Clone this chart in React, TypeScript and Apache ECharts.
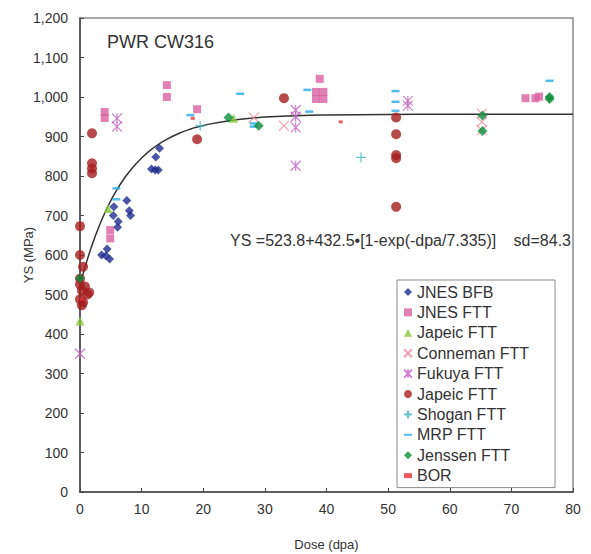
import React, { useEffect, useRef } from "react";
import * as echarts from "echarts";

// ---- data (dpa, YS MPa) ----
const jnesBfb = [[3.5, 600], [4.2, 598], [4.8, 590], [4.4, 615], [5.4, 700], [5.5, 722], [6.1, 670], [6.2, 685], [7.6, 738], [8.0, 712], [8.2, 700], [11.6, 818], [12.2, 815], [12.7, 815], [12.3, 848], [12.9, 870]];
const jnesFtt = [[4.0, 962], [4.0, 947], [4.9, 663], [4.9, 642], [14.1, 1030], [14.1, 1000], [19.0, 969], [38.3, 1013], [39.5, 1013], [38.3, 995], [39.5, 995], [38.9, 1046], [72.3, 997], [73.9, 997], [74.5, 1001]];
const japeicTri = [[0, 433], [4.55, 718], [24.9, 946]];
const conneman = [[28.2, 948], [33.1, 927], [65.2, 958], [65.2, 937], [65.2, 916]];
const fukuya = [[0, 350], [6.0, 946], [6.0, 925], [35.0, 967], [35.0, 950], [35.0, 923], [35.0, 826], [53.2, 990], [53.2, 978]];
const japeicCircle = [[1.95, 908], [1.95, 832], [1.95, 819], [1.95, 807], [0, 673], [0, 600], [0.5, 570], [0, 540], [0, 525], [0.8, 520], [0.3, 510], [1.2, 500], [1.5, 505], [0, 488], [0.5, 480], [0.3, 473], [19.0, 893], [33.1, 997], [51.3, 948], [51.3, 906], [51.3, 853], [51.3, 845], [51.3, 722]];
const shogan = [[19.5, 927], [45.6, 847]];
const mrp = [[5.9, 769], [5.9, 741], [17.9, 954], [26.0, 1008], [28.2, 933], [28.2, 925], [36.9, 1018], [37.2, 963], [51.2, 1015], [51.2, 988], [51.2, 965], [76.2, 1041]];
const jenssen = [[0, 541], [24.1, 948], [29.0, 927], [65.3, 953], [65.3, 914], [76.2, 1000], [76.2, 995]];
const bor = [[18.3, 946], [42.3, 937], [0.3, 488]];
// fitted curve YS = 523.8 + 432.5[1-exp(-dpa/7.335)], points as drawn
const fitCurve = [[0, 523.8], [0.5, 552.3], [1, 578.9], [2, 627.0], [3, 669.0], [4, 705.6], [5, 737.5], [6, 765.4], [7, 789.8], [8, 811.0], [10, 845.7], [12, 872.1], [14, 892.2], [16, 907.5], [18, 919.1], [20, 928.0], [25, 942.0], [30, 949.1], [35, 952.6], [40, 954.4], [50, 955.8], [60, 956.2], [80, 956.3]];

const xTicks = [0, 10, 20, 30, 40, 50, 60, 70, 80];
const yTicks = [0, 100, 200, 300, 400, 500, 600, 700, 800, 900, 1000, 1100, 1200];

const FONT = "Liberation Sans, Arial, sans-serif";
const X_PATH = "path://M0,0L10,10M10,0L0,10";
const STAR_PATH = "path://M0,0L10,10M10,0L0,10M5,0L5,10";
const PLUS_PATH = "path://M5,0L5,10M0,5L10,5";
const DASH_ICON = "path://M0,4L10,4L10,6.5L0,6.5Z";
const SMALL_DASH_ICON = "path://M3,4L7,4L7,6.5L3,6.5Z";

const strokeStyle = (c: string, w = 1.2) => ({ color: "rgba(0,0,0,0)", borderColor: c, borderWidth: w });

export default function App() {
  const ref = useRef<HTMLDivElement>(null);
  useEffect(() => {
    if (!ref.current) return;
    const chart = echarts.init(ref.current, null, { renderer: "svg" });
    const fmt = (v: number) => String(v).replace(/\B(?=(\d{3})+(?!\d))/g, ",");
    chart.setOption({
      animation: false,
      backgroundColor: "#ffffff",
      grid: { left: 80, right: 18, top: 18, bottom: 62, outerBoundsMode: "none", show: true, borderColor: "#8a8a8a", borderWidth: 1.5 },
      xAxis: {
        type: "value",
        min: xTicks[0],
        max: xTicks[xTicks.length - 1],
        interval: 10,
        name: "Dose (dpa)",
        nameLocation: "middle",
        nameGap: 46,
        nameMoveOverlap: false,
        nameTextStyle: { fontFamily: FONT, fontSize: 13, color: "#333" },
        axisLine: { show: true, lineStyle: { color: "#444", width: 1.5 } },
        axisTick: { show: true, inside: true, length: 4, lineStyle: { color: "#444" } },
        axisLabel: { fontFamily: FONT, fontSize: 14, color: "#333", margin: 10 },
        splitLine: { show: false },
      },
      yAxis: {
        type: "value",
        min: yTicks[0],
        max: yTicks[yTicks.length - 1],
        interval: 100,
        name: "YS (MPa)",
        nameLocation: "middle",
        nameGap: 45,
        nameMoveOverlap: false,
        nameRotate: 90,
        nameTextStyle: { fontFamily: FONT, fontSize: 13, color: "#333" },
        axisLine: { show: true, lineStyle: { color: "#444", width: 1.5 } },
        axisTick: { show: true, inside: true, length: 4, lineStyle: { color: "#444" } },
        axisLabel: { fontFamily: FONT, fontSize: 14, color: "#333", margin: 12, formatter: fmt },
        splitLine: { show: false },
      },
      legend: {
        orient: "vertical",
        left: 397,
        top: 280,
        itemWidth: 8,
        itemHeight: 8,
        itemGap: 4.4,
        padding: [4, 26, 4, 6],
        borderColor: "#8a8a8a",
        borderWidth: 1,
        backgroundColor: "#fff",
        textStyle: { fontFamily: FONT, fontSize: 16, color: "#333" },
        formatter: (n: string) => n.trim(),
        data: [
          "JNES BFB",
          "JNES FTT",
          "Japeic FTT",
          "Conneman FTT",
          "Fukuya FTT",
          "Japeic FTT ",
          "Shogan FTT",
          { name: "MRP FTT", icon: DASH_ICON },
          "Jenssen FTT",
          { name: "BOR", icon: SMALL_DASH_ICON },
        ],
      },
      graphic: [
        { type: "text", left: 107, top: 33, style: { text: "PWR CW316", fontFamily: FONT, fontSize: 18, fill: "#333" } },
        { type: "text", left: 230, top: 232, style: { text: "YS =523.8+432.5•[1-exp(-dpa/7.335)]", fontFamily: FONT, fontSize: 16, fill: "#333" } },
        { type: "text", right: 20, top: 232, style: { text: "sd=84.3", fontFamily: FONT, fontSize: 16, fill: "#333" } },
      ],
      series: [
        { type: "line", name: "fit", data: fitCurve, smooth: true, showSymbol: false, lineStyle: { color: "#333", width: 1.5 }, z: 1, silent: true },
        { type: "scatter", name: "JNES BFB", data: jnesBfb, symbol: "diamond", symbolSize: 9, itemStyle: { color: "#1f2a8c" } },
        { type: "scatter", name: "JNES FTT", data: jnesFtt, symbol: "rect", symbolSize: 8, itemStyle: { color: "#d9609f" } },
        { type: "scatter", name: "Japeic FTT", data: japeicTri, symbol: "triangle", symbolSize: 9, itemStyle: { color: "#8cc63e" } },
        { type: "scatter", name: "Conneman FTT", data: conneman, symbol: X_PATH, symbolSize: 10, itemStyle: strokeStyle("#f08a9a") },
        { type: "scatter", name: "Fukuya FTT", data: fukuya, symbol: STAR_PATH, symbolSize: 10, itemStyle: strokeStyle("#c060c0") },
        { type: "scatter", name: "Japeic FTT ", data: japeicCircle, symbol: "circle", symbolSize: 10, itemStyle: { color: "#a51d1d" } },
        { type: "scatter", name: "Shogan FTT", data: shogan, symbol: PLUS_PATH, symbolSize: 10, itemStyle: strokeStyle("#3cb4c8") },
        { type: "scatter", name: "MRP FTT", data: mrp, symbol: "rect", symbolSize: [8, 2.5], itemStyle: { color: "#29abe2" } },
        { type: "scatter", name: "Jenssen FTT", data: jenssen, symbol: "diamond", symbolSize: 10, itemStyle: { color: "#0b8c3a" } },
        { type: "scatter", name: "BOR", data: bor, symbol: "rect", symbolSize: [4, 3], itemStyle: { color: "#e8303a" } },
      ],
    });
    return () => chart.dispose();
  }, []);
  return <div ref={ref} style={{ position: "fixed", left: 0, top: 0, width: 591, height: 554 }} />;
}
